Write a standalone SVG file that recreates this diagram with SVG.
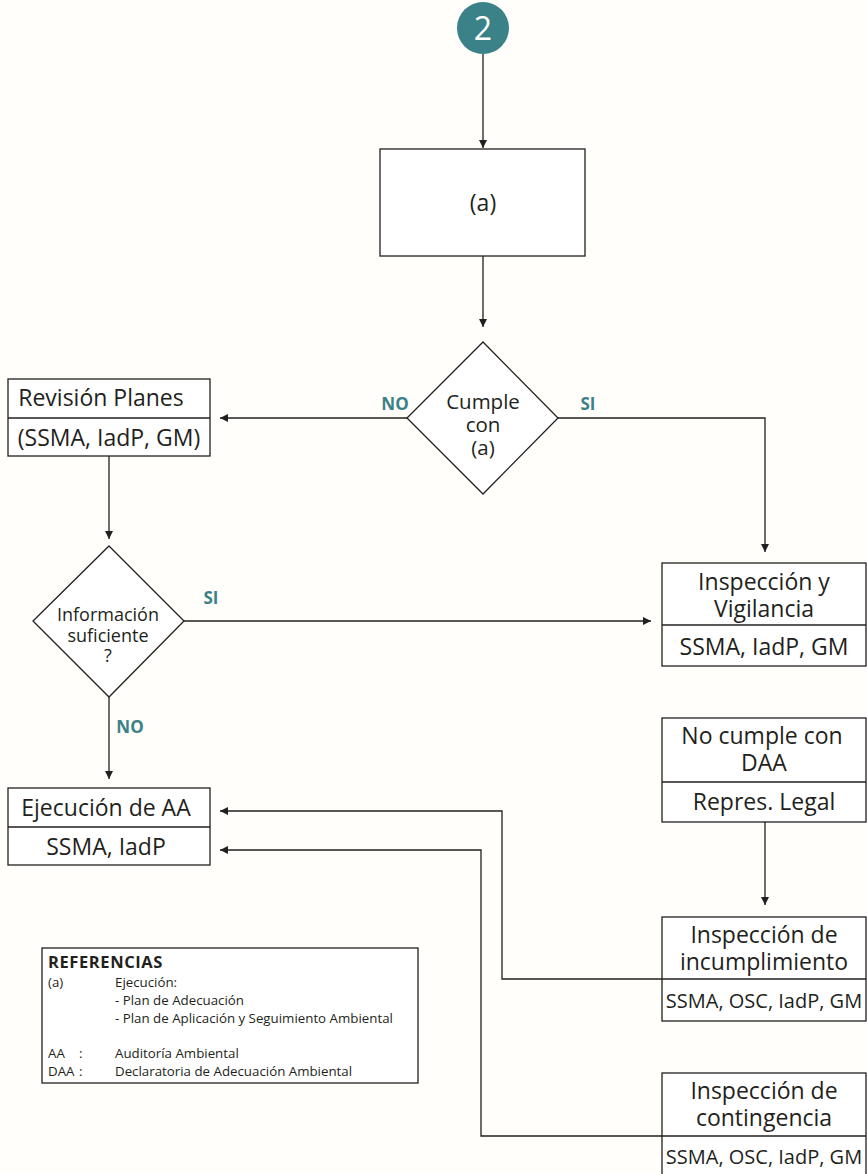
<svg xmlns="http://www.w3.org/2000/svg" width="867" height="1174" viewBox="0 0 867 1174">
<defs>
<marker id="ah" viewBox="0 0 10 10" refX="10" refY="5" markerWidth="10" markerHeight="8" markerUnits="userSpaceOnUse" orient="auto">
<path d="M0,0 L10,5 L0,10 Z" fill="#231f20"/>
</marker>
<style>
.bx{fill:#ffffff;stroke:#231f20;stroke-width:1.3}
.ln{fill:none;stroke:#231f20;stroke-width:1.3}
.t{font-family:"Open Sans","Noto Sans",sans-serif;fill:#231f20;text-anchor:middle}
.big{font-size:23px}
.mid{font-size:20.5px}
.dia{font-size:18px}
.lab{font-family:"Open Sans","Noto Sans",sans-serif;font-weight:bold;font-size:17px;fill:#3a8288;text-anchor:middle}
.ref{font-family:"Open Sans","Noto Sans",sans-serif;font-size:13.3px;fill:#231f20}
.refh{font-family:"Open Sans","Noto Sans",sans-serif;font-size:16.5px;font-weight:bold;letter-spacing:0.6px;fill:#231f20}
</style>
</defs>
<rect width="867" height="1174" fill="#fffefa"/>
<g id="connectors">
<line class="ln" x1="483" y1="54" x2="483" y2="148" marker-end="url(#ah)"/>
<line class="ln" x1="483" y1="256" x2="483" y2="327" marker-end="url(#ah)"/>
<line class="ln" x1="407" y1="418" x2="220" y2="418" marker-end="url(#ah)"/>
<polyline class="ln" points="558,418 765,418 765,552" marker-end="url(#ah)"/>
<line class="ln" x1="109" y1="456" x2="109" y2="539" marker-end="url(#ah)"/>
<line class="ln" x1="184" y1="621" x2="651" y2="621" marker-end="url(#ah)"/>
<line class="ln" x1="109" y1="697" x2="109" y2="779" marker-end="url(#ah)"/>
<line class="ln" x1="765" y1="822" x2="765" y2="905" marker-end="url(#ah)"/>
<polyline class="ln" points="662,979 502,979 502,811 220,811" marker-end="url(#ah)"/>
<polyline class="ln" points="662,1136 481,1136 481,850 220,850" marker-end="url(#ah)"/>
<text class="lab" x="395" y="410">NO</text>
<text class="lab" x="588" y="410">SI</text>
<text class="lab" x="211" y="604">SI</text>
<text class="lab" x="130" y="733">NO</text>
</g>
<g id="start">
<circle cx="483" cy="28" r="26" fill="#3a8288"/>
<text x="483" y="40" font-family="Open Sans, Noto Sans, sans-serif" font-size="32" fill="#ffffff" text-anchor="middle">2</text>
</g>
<g id="node-a">
<rect class="bx" x="380" y="149" width="205" height="107"/>
<text class="t" font-size="23" x="483" y="211">(a)</text>
</g>
<g id="decision-cumple">
<polygon class="bx" points="483,342 558,418 483,494 407,418"/>
<text class="t mid" x="483" y="409">Cumple<tspan x="483" dy="23">con</tspan><tspan x="483" dy="23">(a)</tspan></text>
</g>
<g id="revision-planes">
<rect class="bx" x="8" y="379" width="202" height="77"/>
<line class="ln" x1="8" y1="418" x2="210" y2="418"/>
<text class="t big" x="101" y="406">Revisión Planes</text>
<text class="t big" x="109" y="446">(SSMA, IadP, GM)</text>
</g>
<g id="decision-info">
<polygon class="bx" points="109,546 184,621 109,697 33,621"/>
<text class="t dia" x="108" y="621">Información<tspan x="108" dy="21">suficiente</tspan><tspan x="108" dy="20">?</tspan></text>
</g>
<g id="inspeccion-vigilancia">
<rect class="bx" x="662" y="563" width="204" height="103"/>
<line class="ln" x1="662" y1="625" x2="866" y2="625"/>
<text class="t big" x="764" y="590">Inspección y<tspan x="764" dy="27">Vigilancia</tspan></text>
<text class="t big" x="764" y="655">SSMA, IadP, GM</text>
</g>
<g id="no-cumple-daa">
<rect class="bx" x="662" y="718" width="204" height="104"/>
<line class="ln" x1="662" y1="782" x2="866" y2="782"/>
<text class="t big" x="762" y="744">No cumple con<tspan x="764" dy="27">DAA</tspan></text>
<text class="t big" x="764" y="810">Repres. Legal</text>
</g>
<g id="ejecucion-aa">
<rect class="bx" x="8" y="788" width="202" height="77"/>
<line class="ln" x1="8" y1="827" x2="210" y2="827"/>
<text class="t big" x="106" y="816">Ejecución de AA</text>
<text class="t big" x="106" y="855">SSMA, IadP</text>
</g>
<g id="inspeccion-incumplimiento">
<rect class="bx" x="662" y="917" width="204" height="104"/>
<line class="ln" x1="662" y1="979" x2="866" y2="979"/>
<text class="t big" x="764" y="943">Inspección de<tspan x="764" dy="27">incumplimiento</tspan></text>
<text class="t" font-size="20" x="764" y="1008">SSMA, OSC, IadP, GM</text>
</g>
<g id="inspeccion-contingencia">
<rect class="bx" x="662" y="1073" width="204" height="110"/>
<line class="ln" x1="662" y1="1136" x2="866" y2="1136"/>
<text class="t big" x="764" y="1099">Inspección de<tspan x="764" dy="27">contingencia</tspan></text>
<text class="t" font-size="20" x="764" y="1164">SSMA, OSC, IadP, GM</text>
</g>
<g id="referencias">
<rect class="bx" x="42" y="948" width="376" height="135"/>
<text class="refh" x="48" y="968">REFERENCIAS</text>
<text class="ref" x="48" y="987">(a)</text>
<text class="ref" x="115" y="987">Ejecución:<tspan x="115" dy="18">- Plan de Adecuación</tspan><tspan x="115" dy="18">- Plan de Aplicación y Seguimiento Ambiental</tspan></text>
<text class="ref" x="48" y="1058">AA<tspan x="79">:</tspan></text>
<text class="ref" x="115" y="1058">Auditoría Ambiental</text>
<text class="ref" x="48" y="1076">DAA<tspan x="79">:</tspan></text>
<text class="ref" x="115" y="1076">Declaratoria de Adecuación Ambiental</text>
</g>
</svg>
